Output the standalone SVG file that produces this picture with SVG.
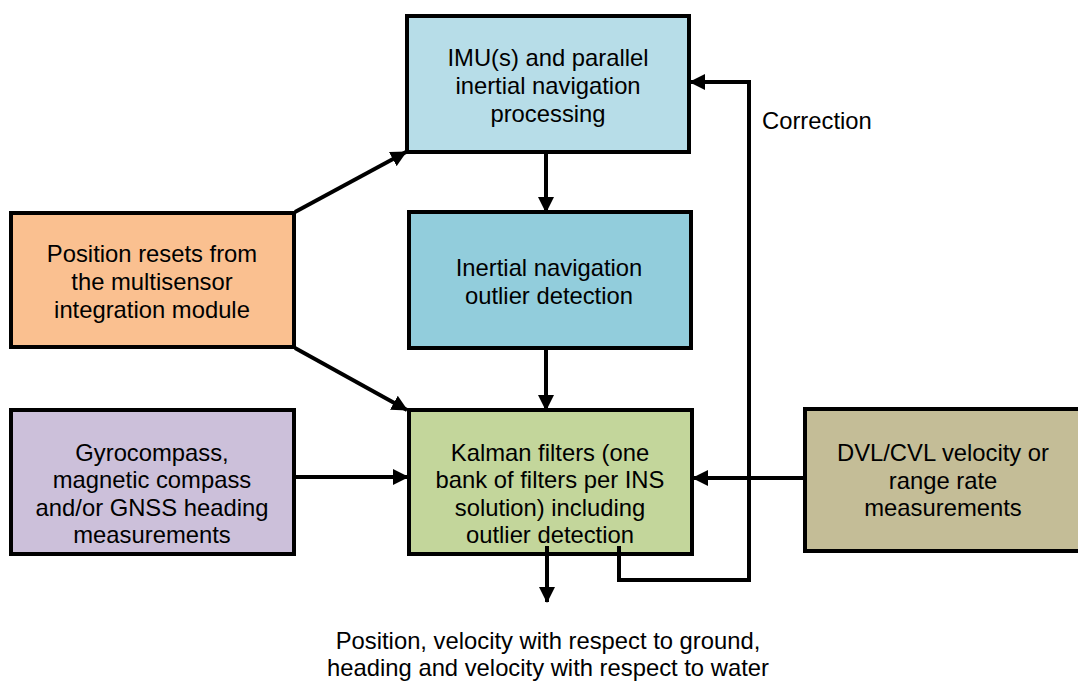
<svg xmlns="http://www.w3.org/2000/svg" width="1078" height="682" viewBox="0 0 1078 682">
<style>
.box{stroke:#000;stroke-width:4}
.t{font-family:"Liberation Sans",Arial,sans-serif;font-size:23.8px;fill:#000;text-anchor:middle}
.c{fill:none;stroke:#000;stroke-width:4}
</style>
<defs>
<marker id="ah" markerUnits="userSpaceOnUse" markerWidth="16" markerHeight="16" viewBox="0 0 16 16" refX="15" refY="8" orient="auto">
<path d="M0,0 L16,8 L0,16 Z" fill="#000"/>
</marker>
</defs>
<rect width="1078" height="682" fill="#fff"/>
<g id="imu"><rect class="box" x="407" y="16" width="282" height="136" fill="#b7dde8"/>
<text class="t" x="548" y="66">IMU(s) and parallel</text><text class="t" x="548" y="94">inertial navigation</text><text class="t" x="548" y="122">processing</text></g>
<g id="ino"><rect class="box" x="409" y="212" width="282" height="136" fill="#92cddc"/>
<text class="t" x="549" y="276">Inertial navigation</text><text class="t" x="549" y="304">outlier detection</text></g>
<g id="reset"><rect class="box" x="11" y="213" width="283" height="134" fill="#fac090"/>
<text class="t" x="152" y="262">Position resets from</text><text class="t" x="152" y="290">the multisensor</text><text class="t" x="152" y="318">integration module</text></g>
<g id="heading"><rect class="box" x="11" y="410" width="283" height="144" fill="#ccc0da"/>
<text class="t" x="152" y="461">Gyrocompass,</text><text class="t" x="152" y="488">magnetic compass</text><text class="t" x="152" y="516">and/or GNSS heading</text><text class="t" x="152" y="543">measurements</text></g>
<g id="kalman"><rect class="box" x="409" y="410" width="283" height="144" fill="#c3d69b"/>
<text class="t" x="550" y="461">Kalman filters (one</text><text class="t" x="550" y="488">bank of filters per INS</text><text class="t" x="550" y="516">solution) including</text><text class="t" x="550" y="543">outlier detection</text></g>
<g id="dvl"><rect class="box" x="805" y="409" width="300" height="142" fill="#c4bd97"/>
<text class="t" x="943" y="461">DVL/CVL velocity or</text><text class="t" x="943" y="489">range rate</text><text class="t" x="943" y="516">measurements</text></g>
<g id="connectors">
<line class="c" x1="295" y1="212" x2="406" y2="152" marker-end="url(#ah)"/>
<line class="c" x1="295" y1="348" x2="407" y2="410" marker-end="url(#ah)"/>
<line class="c" x1="546" y1="152" x2="546" y2="212" marker-end="url(#ah)"/>
<line class="c" x1="546" y1="348" x2="546" y2="410" marker-end="url(#ah)"/>
<line class="c" x1="294" y1="477" x2="408" y2="477" marker-end="url(#ah)"/>
<line class="c" x1="805" y1="478" x2="693" y2="478" marker-end="url(#ah)"/>
<line class="c" x1="547" y1="546" x2="547" y2="602" marker-end="url(#ah)"/>
<polyline class="c" points="619,546 619,580 749,580 749,82 690,82" marker-end="url(#ah)"/>
</g>
<text class="t" x="762" y="129" style="text-anchor:start">Correction</text>
<text class="t" x="548" y="649">Position, velocity with respect to ground,</text>
<text class="t" x="548" y="676">heading and velocity with respect to water</text>
</svg>
